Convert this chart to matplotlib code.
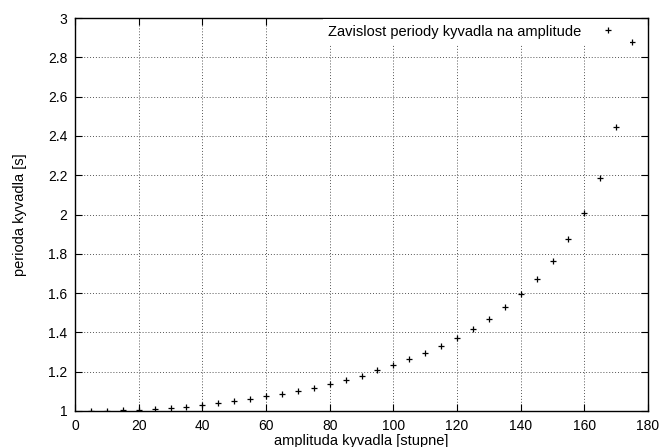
import matplotlib
matplotlib.use("Agg")
import matplotlib.pyplot as plt
from matplotlib.ticker import FuncFormatter

plt.rcParams['font.family'] = ['Liberation Sans', 'DejaVu Sans']

amplitude = [5, 10, 15, 20, 25, 30, 35, 40, 45, 50, 55, 60, 65, 70, 75, 80, 85, 90,
             95, 100, 105, 110, 115, 120, 125, 130, 135, 140, 145, 150, 155, 160,
             165, 170, 175]
perioda = [1.000, 1.001, 1.003, 1.006, 1.009, 1.015, 1.020, 1.032, 1.040, 1.050,
           1.059, 1.074, 1.084, 1.101, 1.116, 1.139, 1.157, 1.180, 1.207, 1.232,
           1.263, 1.297, 1.332, 1.372, 1.417, 1.470, 1.528, 1.595, 1.673, 1.762,
           1.874, 2.008, 2.187, 2.443, 2.878]

xticks = [0, 20, 40, 60, 80, 100, 120, 140, 160, 180]
yticks = [1, 1.2, 1.4, 1.6, 1.8, 2, 2.2, 2.4, 2.6, 2.8, 3]

fig = plt.figure(figsize=(6.62, 4.47), dpi=100)
ax = fig.add_axes([75/662, 36/447, (648-75)/662, (411-18)/447])

ax.plot(amplitude, perioda, linestyle='none', marker='+', color='black',
        markersize=5, markeredgewidth=0.9,
        label='Zavislost periody kyvadla na amplitude')

ax.set_xlim(0, 180)
ax.set_ylim(1, 3)
ax.set_xticks(xticks)
ax.set_yticks(yticks)
ax.yaxis.set_major_formatter(FuncFormatter(lambda v, p: '%g' % v))
ax.tick_params(direction='in', length=5, width=0.8, top=True, right=True,
               labelsize=10, colors='black')
ax.tick_params(axis='x', pad=6)
ax.tick_params(axis='y', pad=5.5)
ax.grid(True, linestyle=(0, (1, 2)), color='#555555', linewidth=0.7)
for s in ax.spines.values():
    s.set_linewidth(1.0)

ax.set_xlabel('amplituda kyvadla [stupne]', fontsize=10.5, labelpad=0.5)
ax.set_ylabel('perioda kyvadla [s]', fontsize=10.5, labelpad=15)

leg = ax.legend(loc='upper right', markerfirst=False, frameon=True, fontsize=10.5,
                borderaxespad=0.1, handlelength=2.4, handletextpad=0.6,
                borderpad=0.35, markerscale=0.9)
leg.get_frame().set_edgecolor('none')
leg.get_frame().set_facecolor('white')
leg.get_frame().set_alpha(1)
leg.get_frame().set_boxstyle('square', pad=0)
leg.set_bbox_to_anchor((0.972, 1.0), transform=ax.transAxes)

fig.savefig('out.png', dpi=100)
